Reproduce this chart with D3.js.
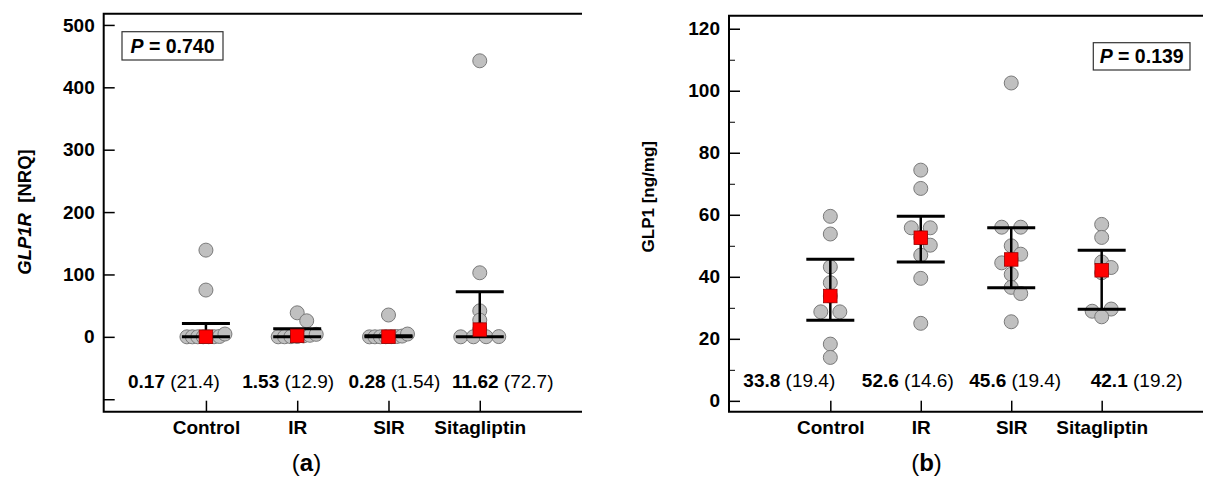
<!DOCTYPE html>
<html><head><meta charset="utf-8">
<script src="https://cdn.jsdelivr.net/npm/d3@7"></script>
<style>
body{margin:0;background:#fff;}
text{font-family:"Liberation Sans",Arial,sans-serif;}
</style></head>
<body><svg id="c" width="1214" height="477"></svg>
<script>
// ---------------- DATA ----------------
const categories = ["Control", "IR", "SIR", "Sitagliptin"];

// Panel (a): GLP1R [NRQ]
const glp1rValues = [
  [0.02, 0.05, 0.08, 0.12, 0.15, 0.19, 0.6, 4.5, 75, 139],
  [0.05, 0.1, 0.3, 0.6, 1.53, 2.5, 4, 25.7, 38.5],
  [0.02, 0.05, 0.1, 0.2, 0.28, 0.5, 1.2, 4.5, 35],
  [0.05, 0.1, 0.2, 0.4, 11.62, 26.8, 41.7, 102.7, 442.5]
];
const glp1rMedian = [0.17, 1.53, 0.28, 11.62];
const glp1rQ1 = [0.05, 0.1, 0.05, 0.2];
const glp1rQ3 = [21.5, 12.9, 1.6, 72.4];
const glp1rIQR = ["21.4", "12.9", "1.54", "72.7"];
const glp1rMedLabel = ["0.17", "1.53", "0.28", "11.62"];
const glp1rTicks = [-100, 0, 100, 200, 300, 400, 500];
const glp1rP = "0.740";

// Panel (b): GLP1 [ng/mg]
const glp1Values = [
  [59.5, 53.8, 43.2, 38.1, 33.8, 28.7, 28.7, 18.3, 14.0],
  [74.4, 68.5, 55.8, 55.8, 52.7, 50.2, 47.0, 39.5, 25.0],
  [102.5, 56, 56, 50, 47.3, 45.6, 44.5, 40.8, 36.6, 34.6, 25.5],
  [56.9, 52.7, 44.8, 43.0, 41.3, 29.6, 28.9, 27.1]
];
const glp1Median = [33.8, 52.6, 45.6, 42.1];
const glp1Q1 = [26.0, 44.8, 36.5, 29.5];
const glp1Q3 = [45.7, 59.5, 55.8, 48.6];
const glp1IQR = ["19.4", "14.6", "19.4", "19.2"];
const glp1MedLabel = ["33.8", "52.6", "45.6", "42.1"];
const glp1Ticks = [0, 20, 40, 60, 80, 100, 120];
const glp1MinorTicks = [10, 30, 50, 70, 90, 110];
const glp1P = "0.139";

// ---------------- LAYOUT ----------------
const svg = d3.select("#c");
svg.append("rect").attr("width", 1214).attr("height", 477).attr("fill", "#fff");

const FS = 19;

function beeswarm(values, y, s, maxSpan, minD) {
  const pts = values.map(v => ({v, py: y(v)})).sort((a, b) => b.v - a.v);
  const rows = [];
  pts.forEach(p => {
    const last = rows[rows.length - 1];
    if (last && Math.abs(last[last.length - 1].py - p.py) < 3) last.push(p);
    else rows.push([p]);
  });
  const placed = [];
  rows.forEach(r => {
    if (r.length > 1) {
      r.sort((a, b) => a.v - b.v);
      const sp = Math.min(2 * s, maxSpan / (r.length - 1));
      r.forEach((p, i) => { p.dx = (i - (r.length - 1) / 2) * sp; placed.push(p); });
    } else {
      const p = r[0];
      for (let k = 0; k < 40; k++) {
        const dx = k === 0 ? 0 : (k % 2 ? 1 : -1) * Math.ceil(k / 2) * s;
        if (placed.every(q => Math.hypot(q.dx - dx, q.py - p.py) >= minD)) { p.dx = dx; break; }
      }
      placed.push(p);
    }
  });
  return placed;
}

function panel(cfg) {
  const g = svg.append("g");
  const x = d3.scalePoint().domain(categories).range([cfg.x0, cfg.x1]).padding(cfg.pad);
  const y = d3.scaleLinear().domain(cfg.yDomain).range([cfg.yBottom, cfg.yTop]);

  // frame (top, left, bottom)
  g.append("path")
    .attr("d", `M${cfg.x1},${cfg.yTop}H${cfg.x0}V${cfg.yBottom}H${cfg.x1}`)
    .attr("fill", "none").attr("stroke", "#000").attr("stroke-width", 2);

  // y axis
  const ya = g.append("g").attr("transform", `translate(${cfg.x0},0)`)
    .call(d3.axisLeft(y).tickValues(cfg.ticks).tickSizeInner(-11).tickSizeOuter(0).tickPadding(9)
      .tickFormat(d => d < 0 ? "" : d));
  ya.select(".domain").remove();
  ya.selectAll("line").attr("stroke", "#000").attr("stroke-width", 1.5);
  ya.selectAll("text").attr("font-size", FS).attr("font-weight", "bold").attr("fill", "#000")
    .attr("font-family", "Liberation Sans, Arial, sans-serif");
  if (cfg.minor) {
    const ym = g.append("g").attr("transform", `translate(${cfg.x0},0)`)
      .call(d3.axisLeft(y).tickValues(cfg.minor).tickSizeInner(-6).tickSizeOuter(0).tickFormat(""));
    ym.select(".domain").remove();
    ym.selectAll("line").attr("stroke", "#000").attr("stroke-width", 1);
  }

  // x axis
  const xa = g.append("g").attr("transform", `translate(0,${cfg.yBottom})`)
    .call(d3.axisBottom(x).tickSizeInner(-11).tickSizeOuter(0).tickPadding(9));
  xa.select(".domain").remove();
  xa.selectAll("line").attr("stroke", "#000").attr("stroke-width", 1.5);
  xa.selectAll("text").attr("font-size", FS).attr("font-weight", "bold").attr("fill", "#000")
    .attr("font-family", "Liberation Sans, Arial, sans-serif");

  // dots
  categories.forEach((c, i) => {
    const pts = beeswarm(cfg.values[i], y, 9.5, 38, 9);
    g.append("g").selectAll("circle").data(pts).join("circle")
      .attr("cx", d => x(c) + d.dx).attr("cy", d => d.py).attr("r", 7)
      .attr("fill", "#c0c0c0").attr("stroke", "#7a7a7a").attr("stroke-width", 1);
  });

  // error bars (IQR)
  categories.forEach((c, i) => {
    const cx = x(c), capW = 24;
    g.append("line").attr("x1", cx).attr("x2", cx)
      .attr("y1", y(cfg.q1[i])).attr("y2", y(cfg.q3[i]))
      .attr("stroke", "#000").attr("stroke-width", 2.5);
    [cfg.q1[i], cfg.q3[i]].forEach(v => {
      g.append("line").attr("x1", cx - capW).attr("x2", cx + capW)
        .attr("y1", y(v)).attr("y2", y(v)).attr("stroke", "#000").attr("stroke-width", 3);
    });
  });

  // median squares
  g.append("g").selectAll("rect").data(categories).join("rect")
    .attr("x", (c) => x(c) - 6.75).attr("y", (c, i) => y(cfg.median[i]) - 6.75)
    .attr("width", 13.5).attr("height", 13.5)
    .attr("fill", "#ff0000").attr("stroke", "#9a0000").attr("stroke-width", 0.8);

  // stats text
  categories.forEach((c, i) => {
    const t = g.append("text").attr("x", x(c) + cfg.statDx[i]).attr("y", cfg.statY)
      .attr("text-anchor", "middle").attr("font-size", FS).attr("fill", "#000");
    t.append("tspan").attr("font-weight", "bold").text(cfg.medLabel[i]);
    t.append("tspan").text(" (" + cfg.iqr[i] + ")");
  });

  // P box
  g.append("rect").attr("x", cfg.pBox[0]).attr("y", cfg.pBox[1]).attr("width", cfg.pBox[2]).attr("height", cfg.pBox[3])
    .attr("fill", "#fff").attr("stroke", "#333").attr("stroke-width", 1.2);
  const pt = g.append("text").attr("x", cfg.pBox[0] + cfg.pBox[2] / 2).attr("y", cfg.pBox[1] + cfg.pBox[3] / 2)
    .attr("dy", "0.36em").attr("text-anchor", "middle").attr("font-size", 19.5).attr("font-weight", "bold");
  pt.append("tspan").attr("font-style", "italic").text("P");
  pt.append("tspan").text(" = " + cfg.p);

  // y title
  const yt = g.append("text").attr("transform", `translate(${cfg.titleX},${cfg.titleY}) rotate(-90)`)
    .attr("text-anchor", "middle").attr("dy", "0.36em").attr("font-size", cfg.titleFS).attr("font-weight", "bold");
  cfg.title.forEach(([s, it]) => yt.append("tspan").attr("font-style", it ? "italic" : "normal").text(s));

  // caption
  const cap = g.append("text").attr("x", cfg.capX).attr("y", 471).attr("text-anchor", "middle")
    .attr("font-size", 24).attr("font-family", "Liberation Serif, Times New Roman, serif");
  cap.append("tspan").text("(");
  cap.append("tspan").attr("font-weight", "bold").text(cfg.cap);
  cap.append("tspan").text(")");
}

panel({
  x0: 103.7, x1: 582, pad: 1.12, yTop: 13.7, yBottom: 411.7, yDomain: [-120, 518],
  ticks: glp1rTicks, values: glp1rValues, q1: glp1rQ1, q3: glp1rQ3, median: glp1rMedian,
  medLabel: glp1rMedLabel, iqr: glp1rIQR, statDx: [-32, -9, 6, 23], statY: 388,
  pBox: [122, 31.7, 101, 28.3], p: glp1rP,
  title: [["GLP1R", true], ["\u00a0\u00a0[NRQ]", false]], titleX: 24, titleY: 212, titleFS: 18.5,
  cap: "a", capX: 306.5
});
panel({
  x0: 729, x1: 1203, pad: 1.12, yTop: 15.7, yBottom: 411.7, yDomain: [-3.5, 124.2],
  ticks: glp1Ticks, minor: glp1MinorTicks, values: glp1Values, q1: glp1Q1, q3: glp1Q3, median: glp1Median,
  medLabel: glp1MedLabel, iqr: glp1IQR, statDx: [-41, -13, 4, 35], statY: 387,
  pBox: [1093.3, 42.7, 96.7, 27.3], p: glp1P,
  title: [["GLP1 [ng/mg]", false]], titleX: 647.5, titleY: 196.7, titleFS: 17,
  cap: "b", capX: 926.5
});
</script></body></html>
